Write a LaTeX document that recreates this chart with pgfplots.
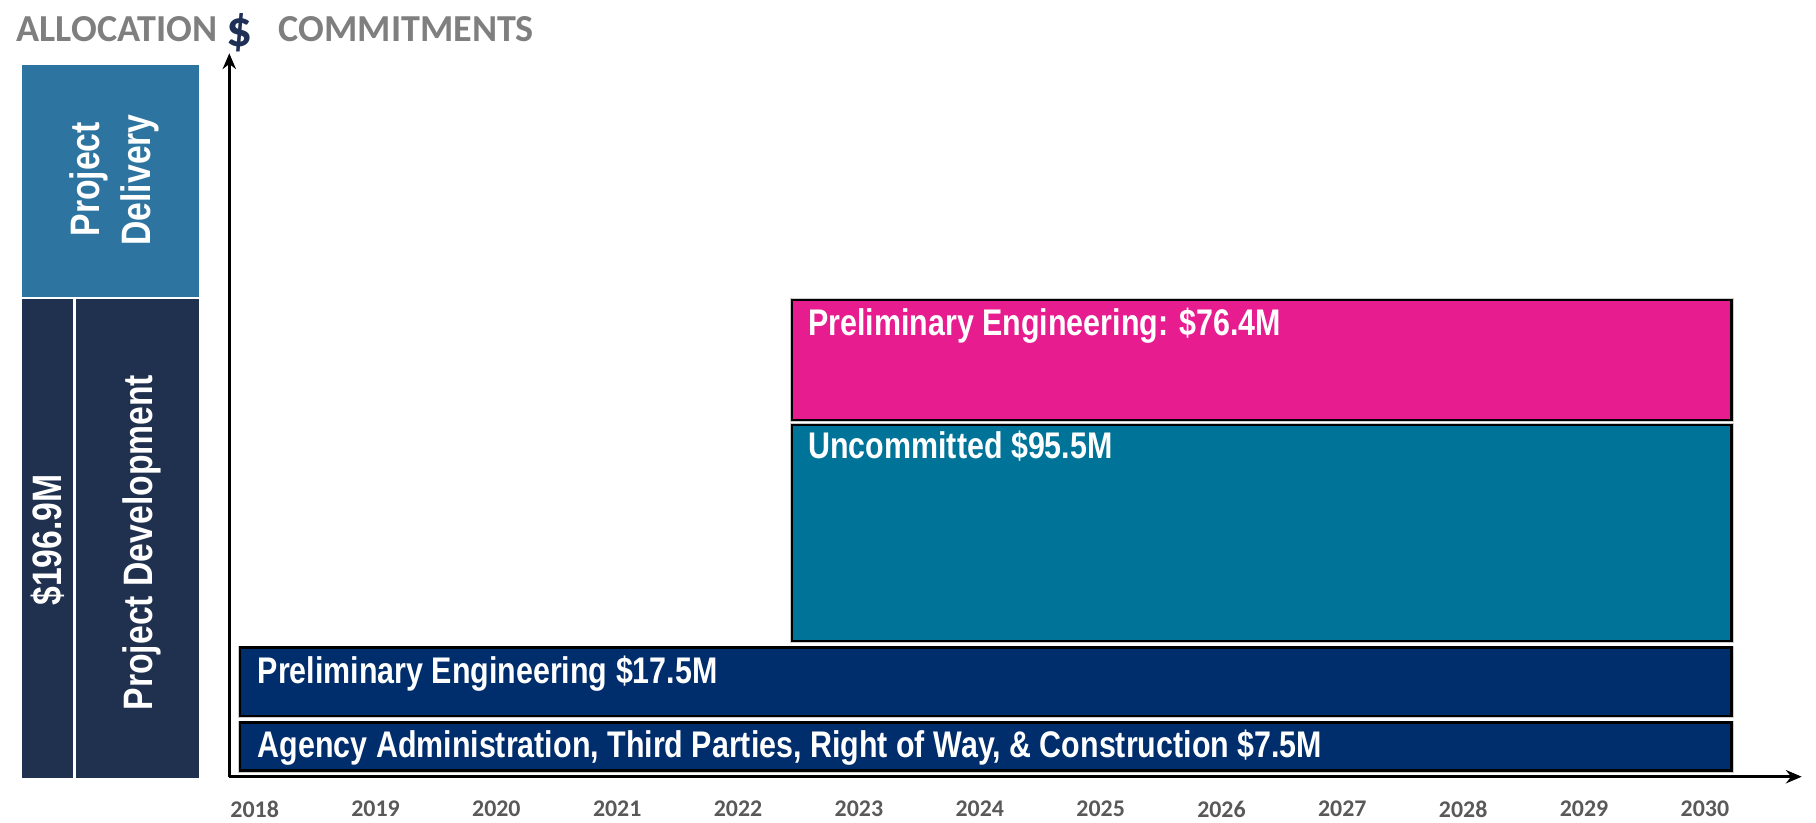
\documentclass[border=0pt]{standalone}
\usepackage{fontspec}
\usepackage{pgfplots}
\pgfplotsset{compat=1.18}
\usetikzlibrary{arrows.meta}
\setmainfont{Liberation Sans}
\newfontfamily\narrowsans[FakeStretch=0.82]{Liberation Sans}
\newfontfamily\calibri{Carlito}
\definecolor{pinkbar}{HTML}{E61C8F}
\definecolor{tealbar}{HTML}{007398}
\definecolor{navybar}{HTML}{002D6B}
\definecolor{delivblue}{HTML}{2E74A0}
\definecolor{devnavy}{HTML}{20304F}
\definecolor{titlegray}{HTML}{7F7F7F}
\definecolor{dollarnavy}{HTML}{1F2F55}
\definecolor{tickgray}{HTML}{595959}

\newcommand\barfont{\narrowsans\bfseries\fontsize{10.55pt}{12pt}\selectfont}
\newcommand\sidefont{\narrowsans\bfseries\fontsize{11.7pt}{14pt}\selectfont}
\newcommand\titlefont{\calibri\bfseries\fontsize{10.85pt}{12pt}\selectfont}

\begin{document}
\begin{tikzpicture}
\useasboundingbox (0,0) rectangle (18.16,8.22);

% ---- left allocation panel
\fill[delivblue] (0.217,5.253) rectangle (1.993,7.570);
\fill[devnavy] (0.217,0.440) rectangle (0.733,5.227);
\fill[devnavy] (0.760,0.440) rectangle (1.993,5.227);
\node[white, rotate=90, anchor=base, inner sep=0pt, font=\sidefont] at (0.994,6.428) {Project};
\node[white, rotate=90, anchor=base, inner sep=0pt, font=\sidefont] at (1.501,6.421) {Delivery};
\node[white, rotate=90, anchor=base, inner sep=0pt, font=\sidefont] at (0.617,2.820) {\$196.9M};
\node[white, rotate=90, anchor=base, inner sep=0pt, font=\sidefont] at (1.527,2.795) {Project Development};

% ---- header
\node[titlegray, anchor=base west, inner sep=0pt, font=\titlefont] at (0.160,7.800) {ALLOCATION};
\node[dollarnavy, anchor=base, inner sep=0pt, font=\calibri\bfseries\fontsize{14.6pt}{16pt}\selectfont] at (2.39,7.75) {\$};
\node[titlegray, anchor=base west, inner sep=0pt, font=\titlefont] at (2.78,7.800) {COMMITMENTS};

% ---- timeline
\begin{axis}[
    at={(2.293cm,0.453cm)}, anchor=south west,
    width=15.724cm, height=7.234cm, scale only axis,
    xmin=2017.79, xmax=2030.80, ymin=0, ymax=723.4,
    axis lines=left,
    axis line style={line width=0.7pt, -{Stealth[length=4.5pt,width=3.8pt]}},
    ytick=\empty,
    xtick={2018,2019,...,2030},
    xticklabels={2018,2019,2020,2021,2022,2023,2024,2025,2026,2027,2028,2029,2030},
    major tick length=0pt,
    xticklabel style={anchor=north, inner sep=0pt, yshift=-0.233cm, text=tickgray,
                      font=\calibri\bfseries\fontsize{6.8pt}{8pt}\selectfont},
    clip=false,
  ]
  % bars: (start year, bottom) -> (end year, top)
  \addplot[fill=navybar, draw=black, line width=0.7pt, preaction={draw=black!20, line width=1.2pt}]
    coordinates {(2017.88,6) (2030.22,6) (2030.22,54) (2017.88,54)} -- cycle;
  \addplot[fill=navybar, draw=black, line width=0.7pt, preaction={draw=black!20, line width=1.2pt}]
    coordinates {(2017.88,60.5) (2030.22,60.5) (2030.22,129) (2017.88,129)} -- cycle;
  \addplot[fill=tealbar, draw=black, line width=0.7pt, preaction={draw=black!20, line width=1.2pt}]
    coordinates {(2022.445,135.7) (2030.22,135.7) (2030.22,351.7) (2022.445,351.7)} -- cycle;
  \addplot[fill=pinkbar, draw=black, line width=0.7pt, preaction={draw=black!20, line width=1.2pt}]
    coordinates {(2022.445,356.7) (2030.22,356.7) (2030.22,476.7) (2022.445,476.7)} -- cycle;

  \node[white, anchor=base west, inner sep=0pt, font=\barfont] at (axis cs:2018.02,19.4)
    {Agency Administration, Third Parties, Right of Way, \& Construction \$7.5M};
  \node[white, anchor=base west, inner sep=0pt, font=\barfont] at (axis cs:2018.02,93.7)
    {Preliminary Engineering \$17.5M};
  \node[white, anchor=base west, inner sep=0pt, font=\barfont] at (axis cs:2022.576,318)
    {Uncommitted \$95.5M};
  \node[white, anchor=base west, inner sep=0pt, font=\barfont] at (axis cs:2022.576,440.7)
    {Preliminary Engineering: \$76.4M};
\end{axis}
\end{tikzpicture}
\end{document}
